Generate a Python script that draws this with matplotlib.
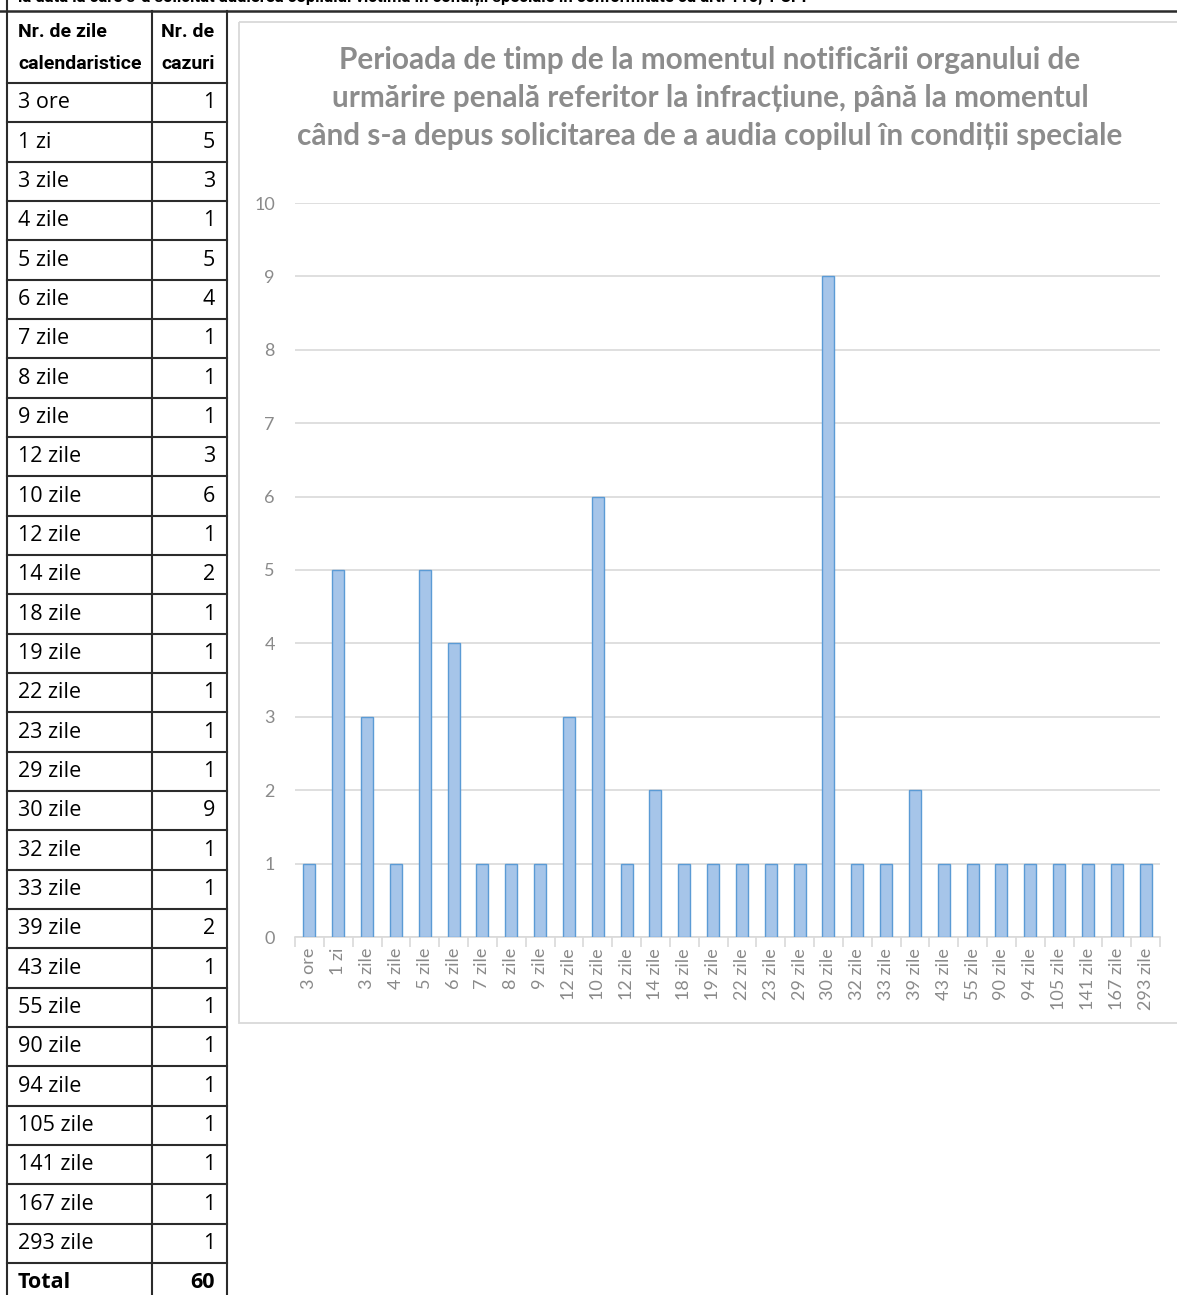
import matplotlib
matplotlib.use("Agg")
import matplotlib.pyplot as plt
from matplotlib.lines import Line2D
from matplotlib.patches import Rectangle

# ---------------- data ----------------
categories = ['3 ore', '1 zi', '3 zile', '4 zile', '5 zile', '6 zile', '7 zile', '8 zile',
              '9 zile', '12 zile', '10 zile', '12 zile', '14 zile', '18 zile', '19 zile',
              '22 zile', '23 zile', '29 zile', '30 zile', '32 zile', '33 zile', '39 zile',
              '43 zile', '55 zile', '90 zile', '94 zile', '105 zile', '141 zile',
              '167 zile', '293 zile']
cases = [1, 5, 3, 1, 5, 4, 1, 1, 1, 3, 6, 1, 2, 1, 1, 1, 1, 1, 9, 1, 1, 2, 1, 1, 1, 1, 1, 1, 1, 1]
yticks = [0, 1, 2, 3, 4, 5, 6, 7, 8, 9, 10]
header_col1 = ['Nr. de zile', 'calendaristice']
header_col2 = ['Nr. de', 'cazuri']
total_label = 'Total'
chart_title = ("Perioada de timp de la momentul notificării organului de\n"
               "urmărire penală referitor la infracțiune, până la momentul\n"
               "când s-a depus solicitarea de a audia copilul în condiții speciale")
caption = ("la data la care s-a solicitat audierea copilului victimă în condiții speciale "
           "în conformitate cu art. 110, 1 CPP")

W, H = 1177, 1295
fig = plt.figure(figsize=(W / 100, H / 100), dpi=100)
fig.patch.set_facecolor('white')

# background axes in pixel coordinates for the table and frames
bg = fig.add_axes([0, 0, 1, 1])
bg.set_xlim(0, W)
bg.set_ylim(H, 0)
bg.axis('off')

line_col = '#2b2b2b'
cond = ['Roboto', 'DejaVu Sans']
body = ['Open Sans', 'DejaVu Sans']

# caption cut off at top (as in the source page)
bg.text(18, -3, caption, fontsize=12, fontweight='bold', family=cond,
        ha='left', va='center', color='black')

# frame lines
bg.add_line(Line2D([0, W], [11, 11], color=line_col, lw=1.8))
bg.add_line(Line2D([7, 7], [0, H], color=line_col, lw=1.5))
x_c1, x_c2 = 152, 227
bg.add_line(Line2D([x_c1, x_c1], [11, H], color=line_col, lw=1.5))
bg.add_line(Line2D([x_c2, x_c2], [11, H], color=line_col, lw=1.5))

# header
hs = 14
bg.text(18, 32, header_col1[0], fontsize=hs, fontweight='bold', family=cond,
        ha='left', va='center', color='black')
bg.text(18, 64, header_col1[1], fontsize=hs, fontweight='bold', family=cond,
        ha='left', va='center', color='black')
bg.text(188, 32, header_col2[0], fontsize=hs, fontweight='bold', family=cond,
        ha='center', va='center', color='black')
bg.text(188, 64, header_col2[1], fontsize=hs, fontweight='bold', family=cond,
        ha='center', va='center', color='black')

bs = 15.5
top_rows = 83
row_h = (1263 - 83) / len(categories)
bg.add_line(Line2D([7, x_c2], [top_rows, top_rows], color=line_col, lw=1.5))
for i, (lab, v) in enumerate(zip(categories, cases)):
    y0 = top_rows + i * row_h
    yc = y0 + row_h / 2
    bg.text(18, yc, lab, fontsize=bs, family=body, ha='left', va='center', color='black')
    bg.text(215, yc, str(v), fontsize=bs, family=body, ha='right', va='center', color='black')
    bg.add_line(Line2D([7, x_c2], [y0 + row_h, y0 + row_h], color=line_col, lw=1.5))
yc = top_rows + len(categories) * row_h + row_h / 2
bg.text(18, yc, total_label, fontsize=bs, family=body, fontweight='bold',
        ha='left', va='center', color='black')
bg.text(215, yc, str(sum(cases)), fontsize=bs, family=body, fontweight='bold',
        ha='right', va='center', color='black')

# chart frame
bg.add_patch(Rectangle((239, 22), W - 239 + 5, 1023 - 22, fill=False,
                       edgecolor='#d9d9d9', lw=1.3))

# chart title
bg.text(710, 98, chart_title, fontsize=21.4, fontweight='bold', family=['Lato', 'DejaVu Sans'],
        ha='center', va='center', color='#8c8c8c', linespacing=1.45)

# ---------------- bar chart ----------------
ax = fig.add_axes([295 / W, 1 - 937 / H, (1160 - 295) / W, (937 - 203) / H])
x = list(range(len(categories)))
ax.bar(x, cases, width=0.42, color='#a6c5e9', edgecolor='#5b9bd5', linewidth=1.0, zorder=3)
ax.set_xlim(-0.5, len(categories) - 0.5)
ax.set_ylim(0, 10)
ax.set_yticks(yticks)
ax.yaxis.grid(True, color='#d9d9d9', lw=1.2, zorder=0)
ax.set_axisbelow(True)
for s in ['top', 'right', 'left']:
    ax.spines[s].set_visible(False)
ax.spines['bottom'].set_color('#d9d9d9')
ax.spines['bottom'].set_linewidth(1.2)
ax.tick_params(axis='y', length=0, pad=14.5, labelsize=13, labelcolor='#8a8a8a')
ax.set_xticks(x)
ax.set_xticklabels(categories, rotation=90, fontsize=13, color='#8a8a8a',
                   family=['Lato', 'DejaVu Sans'])
for t in ax.get_yticklabels():
    t.set_family(['Lato', 'DejaVu Sans'])
ax.tick_params(axis='x', length=0, pad=8)
ax.set_xticks([i - 0.5 for i in range(len(categories) + 1)], minor=True)
ax.tick_params(axis='x', which='minor', length=7, color='#d9d9d9', width=1.2)
ax.patch.set_alpha(0)

fig.savefig('out.png', dpi=100)
